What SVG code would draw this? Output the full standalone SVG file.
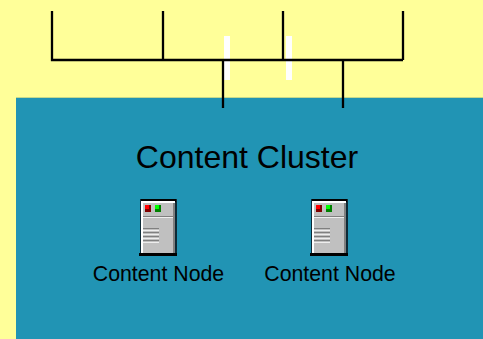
<svg xmlns="http://www.w3.org/2000/svg" width="483" height="339" viewBox="0 0 483 339">
<style>
.wire{stroke:#000;stroke-width:2.300;fill:none}
.title{font-family:"Liberation Sans",Arial,sans-serif;font-size:32px;fill:#000}
.label{font-family:"Liberation Sans",Arial,sans-serif;font-size:21.300px;fill:#000}
</style>
<defs>
<g id="server">
<rect x="0" y="0" width="37" height="55" fill="#0d2a36"/>
<rect x="1" y="0" width="35" height="3" fill="#000"/>
<rect x="1" y="2" width="34" height="52" fill="#c0c0c0"/>
<rect x="1" y="2" width="34" height="2" fill="#fff"/>
<rect x="1" y="2" width="2" height="52" fill="#fff"/>
<rect x="33" y="4" width="2" height="50" fill="#808080"/>
<rect x="3" y="17" width="30" height="1" fill="#808080"/>
<rect x="3" y="18" width="30" height="1" fill="#eee"/>
<rect x="5" y="6" width="6" height="7" fill="#800000"/>
<rect x="5" y="6" width="4" height="4" fill="#f00"/>
<rect x="15" y="6" width="6" height="7" fill="#008000"/>
<rect x="15" y="6" width="4" height="4" fill="#0f0"/>
<path d="M3 29.500h16M3 33.500h16M3 37.500h16M3 41.500h16" stroke="#808080"/>
<path d="M3 31.500h16M3 35.500h16M3 39.500h16M3 43.500h16" stroke="#eee"/>
<rect x="-1" y="54" width="38" height="3" fill="#000"/>
</g>
</defs>
<rect width="483" height="339" fill="#ffff99"/>
<rect x="16" y="97" width="467" height="242" fill="#2194b4"/>
<rect x="16" y="97" width="467" height="1" fill="#c5d98c"/>
<rect x="224" y="36" width="6" height="44" fill="#fff"/>
<rect x="286" y="36" width="6" height="44" fill="#fff"/>
<g id="connectors">
<path class="wire" d="M52 11V60H403M163 11V60M283 11V60M403 11V60M223 60V108M343 60V108"/>
</g>
<g id="cluster"><text class="title" x="247" y="168" text-anchor="middle">Content Cluster</text></g>
<g id="node1"><use href="#server" x="140" y="199"/><text class="label" x="158.500" y="281" text-anchor="middle">Content Node</text></g>
<g id="node2"><use href="#server" x="311" y="199"/><text class="label" x="330" y="281" text-anchor="middle">Content Node</text></g>
</svg>
